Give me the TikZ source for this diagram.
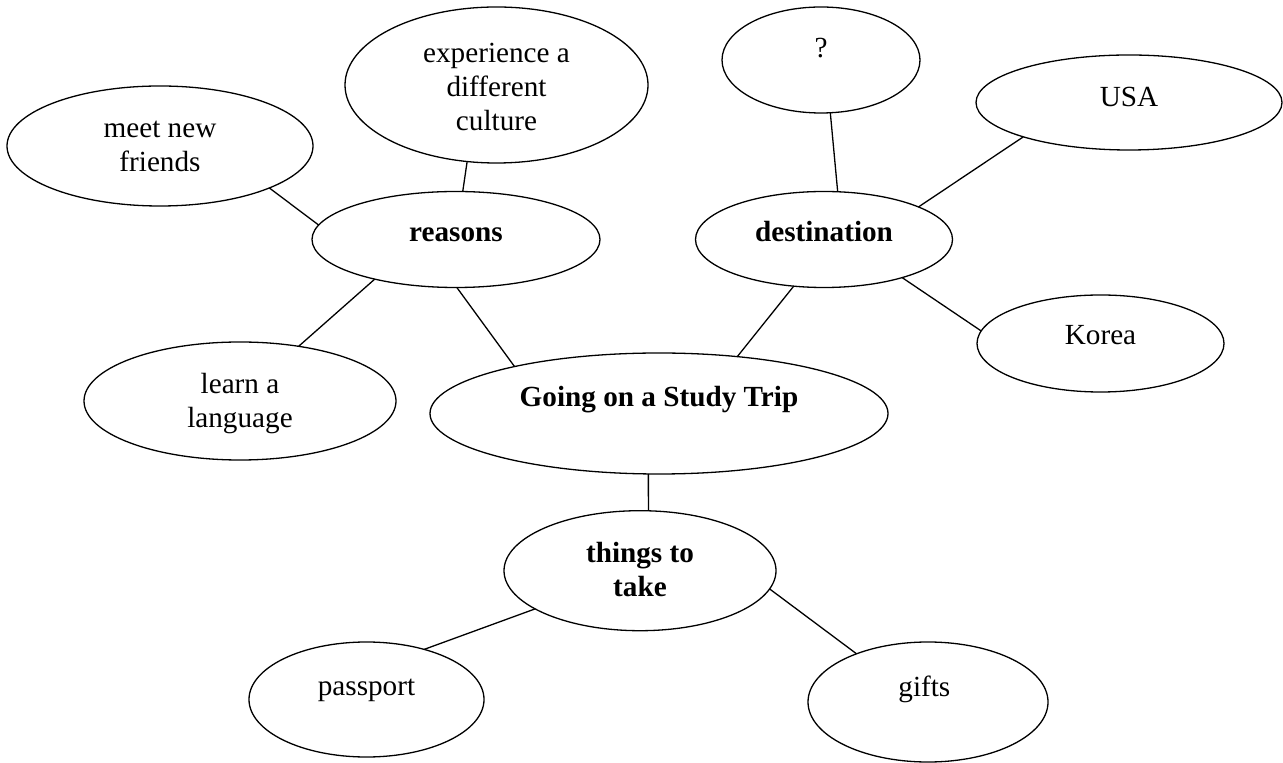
\documentclass[tikz,border=0pt]{standalone}
\usepackage{fontspec}
\setmainfont{Liberation Serif}
\usetikzlibrary{shapes.geometric}

\begin{document}
\begin{tikzpicture}[x=0.5pt, y=-0.5pt, line width=0.65pt,
	bubble/.style={draw, ellipse, inner sep=0pt, outer sep=0pt},
	nodes={font=\fontsize{14.6}{17}\selectfont, align=center}]

\useasboundingbox (0,0) rectangle (1283,763);

% ellipses: name / centre / half axes / text shift / text
\foreach \nm/\cx/\cy/\hw/\hh/\sh/\lbl in {
	friends/160/146/153/60/0/{meet new\\friends},
	culture/496.5/85/151.5/78/2/{experience a\\different\\culture},
	quest/821/60/99/53/-11.5/{?},
	usa/1129/102.5/153/47.5/-6/{USA},
	reasons/456/239.5/144/48/-4.5/{\textbf{reasons}},
	dest/824/239.5/128.5/48/-8/{\textbf{destination}},
	korea/1100.5/343.5/123.5/48.5/-8/{Korea},
	learn/240/401/156/59/2.7/{learn a\\language},
	trip/659/413.5/229/60.5/-13.7/{\textbf{Going on a Study Trip}},
	things/640/570.7/136/60/-1.4/{\textbf{things to}\\\textbf{take}},
	passport/366.5/699.5/117.5/57.5/-9/{passport},
	gifts/928/702/120/60/-13/{gifts}
}{
	\node[bubble, minimum width=\hw pt, minimum height=\hh pt] (\nm) at (\cx,\cy) {};
	\node (\nm-txt) at (\cx,{\cy+(\sh)}) {\lbl};
}

% connectors
\foreach \p/\q in {
	friends.-21.9/reasons.174.5,
	culture.-111.9/reasons.82.6,
	reasons.-154.5/learn.43.1,
	reasons.-89.2/trip.162.2,
	dest.-123.9/trip.36.8,
	quest.-80.3/dest.74.7,
	usa.-162.9/dest.19.4,
	dest.-26.5/korea.174.4,
	trip.-100.6/things.82.7,
	things.-160.6/passport.41.5,
	things.-8.4/gifts.146.2
}
\draw (\p) -- (\q);
\end{tikzpicture}
\end{document}
